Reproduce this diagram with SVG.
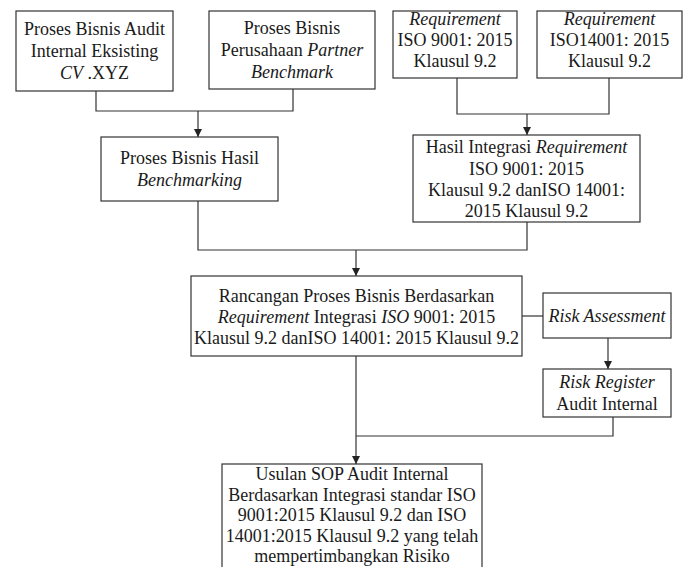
<svg xmlns="http://www.w3.org/2000/svg" width="686" height="567" viewBox="0 0 686 567">
<style>
.box{fill:#fff;stroke:#333;stroke-width:1.2}
text{font-family:'Liberation Serif','DejaVu Serif',serif;font-size:18px;fill:#1a1a1a;text-anchor:middle}
.i{font-style:italic}
.c{fill:none;stroke:#333;stroke-width:1.2}
</style>
<defs>
<marker id="ah" viewBox="0 0 10 10" refX="10" refY="5" markerWidth="8" markerHeight="8" markerUnits="userSpaceOnUse" orient="auto">
<path d="M0,0 L10,5 L0,10 z" fill="#222"/>
</marker>
</defs>
<rect width="686" height="567" fill="#fff"/>
<g id="connectors">
<path class="c" d="M96,91 V111 H293 V89"/>
<path class="c" d="M198,111 V137" marker-end="url(#ah)"/>
<path class="c" d="M457,78 V114 H609 V78"/>
<path class="c" d="M527,114 V135" marker-end="url(#ah)"/>
<path class="c" d="M198,201 V250 H527 V222"/>
<path class="c" d="M356,250 V276" marker-end="url(#ah)"/>
<path class="c" d="M522,316 H543"/>
<path class="c" d="M608,338 V369" marker-end="url(#ah)"/>
<path class="c" d="M613,417 V436 H356"/>
<path class="c" d="M356,356 V464" marker-end="url(#ah)"/>
</g>
<g id="n1">
<rect class="box" x="16" y="11" width="157" height="80"/>
<text x="94.5" y="35">Proses Bisnis  Audit</text>
<text x="94.5" y="57">Internal Eksisting</text>
<text x="94.5" y="79"><tspan class="i">CV</tspan> .XYZ</text>
</g>
<g id="n2">
<rect class="box" x="209" y="11" width="166" height="78"/>
<text x="292" y="34">Proses Bisnis</text>
<text x="292" y="56">Perusahaan <tspan class="i">Partner</tspan></text>
<text x="292" y="78"><tspan class="i">Benchmark</tspan></text>
</g>
<g id="n3">
<rect class="box" x="393" y="11" width="124" height="67"/>
<text class="i" x="455" y="25">Requirement</text>
<text x="455" y="46">ISO 9001: 2015</text>
<text x="455" y="67">Klausul 9.2</text>
</g>
<g id="n4">
<rect class="box" x="537" y="11" width="145" height="67"/>
<text class="i" x="609.5" y="25">Requirement</text>
<text x="609.5" y="46">ISO14001: 2015</text>
<text x="609.5" y="67">Klausul 9.2</text>
</g>
<g id="n5">
<rect class="box" x="101" y="137" width="177" height="64"/>
<text x="189.5" y="164">Proses Bisnis Hasil</text>
<text class="i" x="189.5" y="186">Benchmarking</text>
</g>
<g id="n6">
<rect class="box" x="413" y="135" width="227" height="87"/>
<text x="526.5" y="153">Hasil Integrasi <tspan class="i">Requirement</tspan></text>
<text x="526.5" y="175">ISO 9001: 2015</text>
<text x="526.5" y="196">Klausul 9.2 danISO 14001:</text>
<text x="526.5" y="217">2015 Klausul 9.2</text>
</g>
<g id="n7">
<rect class="box" x="191" y="276" width="331" height="80"/>
<text x="356.5" y="302">Rancangan Proses Bisnis Berdasarkan</text>
<text x="356.5" y="323"><tspan class="i">Requirement</tspan> Integrasi <tspan class="i">ISO</tspan> 9001: 2015</text>
<text x="356.5" y="344">Klausul 9.2 danISO 14001: 2015 Klausul 9.2</text>
</g>
<g id="n8">
<rect class="box" x="543" y="293" width="128" height="45"/>
<text class="i" x="607" y="322">Risk Assessment</text>
</g>
<g id="n9">
<rect class="box" x="543" y="369" width="128" height="48"/>
<text x="607" y="388"><tspan class="i">Risk Register</tspan></text>
<text x="607" y="410">Audit Internal</text>
</g>
<g id="n10">
<rect class="box" x="222" y="464" width="260" height="110"/>
<text x="352" y="480">Usulan SOP Audit Internal</text>
<text x="352" y="500.5">Berdasarkan Integrasi standar ISO</text>
<text x="352" y="521">9001:2015 Klausul 9.2 dan ISO</text>
<text x="352" y="541.5">14001:2015 Klausul 9.2 yang telah</text>
<text x="352" y="562">mempertimbangkan Risiko</text>
</g>
</svg>
